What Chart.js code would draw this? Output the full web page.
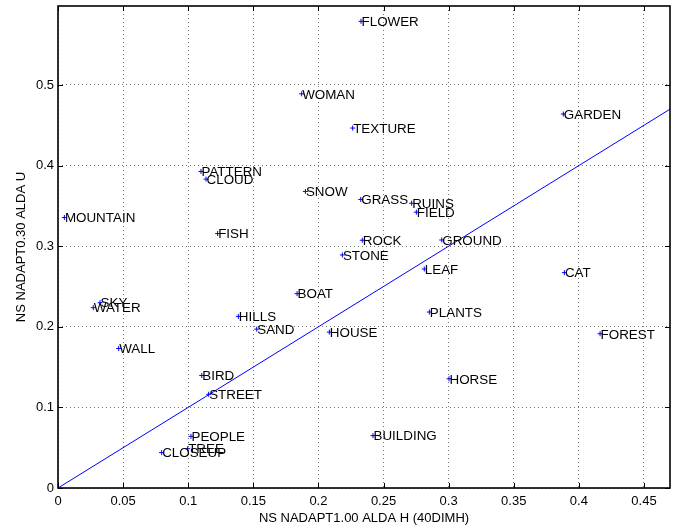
<!DOCTYPE html>
<html>
<head>
<meta charset="utf-8">
<script src="https://cdn.jsdelivr.net/npm/chart.js@4.4.1/dist/chart.umd.min.js"></script>
<style>
  html, body { margin: 0; padding: 0; background: #fff; }
  canvas { display: block; }
</style>
</head>
<body>
<canvas id="chart" width="685" height="528"></canvas>
<script>
// Scene categories and their scores on the two feature sets
const categories = ['FLOWER', 'WOMAN', 'TEXTURE', 'GARDEN', 'PATTERN', 'CLOUD', 'SNOW', 'MOUNTAIN',
  'FISH', 'GRASS', 'RUINS', 'FIELD', 'ROCK', 'GROUND', 'STONE', 'LEAF', 'CAT', 'PLANTS', 'FOREST',
  'HORSE', 'BUILDING', 'HOUSE', 'BOAT', 'HILLS', 'SAND', 'SKY', 'WATER', 'WALL', 'BIRD', 'STREET',
  'PEOPLE', 'TREE', 'CLOSEUP'];
const xValues = [0.2327, 0.1871, 0.2263, 0.3881, 0.1098, 0.1137, 0.1900, 0.0049,
  0.1226, 0.2325, 0.2716, 0.2752, 0.2337, 0.2947, 0.2184, 0.2813, 0.3889, 0.2852, 0.4163,
  0.3003, 0.2419, 0.2084, 0.1836, 0.1385, 0.1526, 0.0323, 0.0271, 0.0466, 0.1104, 0.1157,
  0.1021, 0.0996, 0.0796];
const yValues = [0.5790, 0.4890, 0.4466, 0.4640, 0.3927, 0.3832, 0.3679, 0.3356,
  0.3157, 0.3580, 0.3533, 0.3422, 0.3074, 0.3077, 0.2891, 0.2717, 0.2672, 0.2183, 0.1914,
  0.1355, 0.0650, 0.1934, 0.2411, 0.2129, 0.1971, 0.2299, 0.2237, 0.1731, 0.1396, 0.1163,
  0.0641, 0.0488, 0.0439];

// Reference diagonal y = x
const diagonalX = [0, 0.47];

// Axis ranges and tick labels
const xRange = [0, 0.47];
const yRange = [0, 0.598];
const xTicks = [0, 0.05, 0.1, 0.15, 0.2, 0.25, 0.3, 0.35, 0.4, 0.45];
const xTickLabels = ['0', '0.05', '0.1', '0.15', '0.2', '0.25', '0.3', '0.35', '0.4', '0.45'];
const yTicks = [0, 0.1, 0.2, 0.3, 0.4, 0.5];
const yTickLabels = ['0', '0.1', '0.2', '0.3', '0.4', '0.5'];

const xTitle = 'NS NADAPT1.00 ALDA H (40DIMH)';
const yTitle = 'NS NADAPT0.30 ALDA U';

const FONT = '"Liberation Sans", Arial, Helvetica, sans-serif';
const BLUE = '#0000ff';

// Box, inward tick marks, axis titles and point names
const annotate = {
  id: 'annotate',
  afterDatasetsDraw(chart) {
    const ctx = chart.ctx;
    const a = chart.chartArea;
    const xs = chart.scales.x, ys = chart.scales.y;
    ctx.save();

    // point names
    ctx.fillStyle = '#000';
    ctx.font = '13.4px ' + FONT;
    ctx.textAlign = 'left';
    ctx.textBaseline = 'alphabetic';
    chart.getDatasetMeta(0).data.forEach((el, i) => {
      ctx.fillText(categories[i], el.x + 0.5, el.y + 4.8);
    });

    // frame
    ctx.strokeStyle = '#000';
    ctx.lineWidth = 1.6;
    ctx.strokeRect(a.left, a.top, a.right - a.left, a.bottom - a.top);

    // inward ticks on all four sides
    ctx.lineWidth = 1;
    ctx.beginPath();
    const tl = 5;
    xTicks.forEach(v => {
      const px = Math.round(xs.getPixelForValue(v)) + 0.5;
      ctx.moveTo(px, a.bottom); ctx.lineTo(px, a.bottom - tl);
      ctx.moveTo(px, a.top); ctx.lineTo(px, a.top + tl);
    });
    yTicks.forEach(v => {
      const py = Math.round(ys.getPixelForValue(v)) + 0.5;
      ctx.moveTo(a.left, py); ctx.lineTo(a.left + tl, py);
      ctx.moveTo(a.right, py); ctx.lineTo(a.right - tl, py);
    });
    ctx.stroke();

    // axis titles
    ctx.font = '13px ' + FONT;
    ctx.textAlign = 'center';
    ctx.fillText(xTitle, (a.left + a.right) / 2, 522);
    ctx.translate(24.5, (a.top + a.bottom) / 2);
    ctx.rotate(-Math.PI / 2);
    ctx.fillText(yTitle, 0, 0);
    ctx.restore();
  }
};

const gridStyle = {
  color: 'rgba(0,0,0,0.55)',
  lineWidth: 1,
  drawTicks: false
};
const dottedBorder = { display: false, dash: [1, 3] };

new Chart(document.getElementById('chart'), {
  type: 'scatter',
  data: {
    datasets: [
      {
        data: categories.map((c, i) => ({ x: xValues[i], y: yValues[i] })),
        pointStyle: 'cross',
        pointRadius: 2.5,
        pointBorderColor: BLUE,
        pointBorderWidth: 1,
        showLine: false
      },
      {
        type: 'line',
        data: diagonalX.map(v => ({ x: v, y: v })),
        borderColor: BLUE,
        borderWidth: 1,
        pointRadius: 0,
        fill: false
      }
    ]
  },
  options: {
    responsive: false,
    devicePixelRatio: 1,
    animation: false,
    events: [],
    layout: { padding: { left: 0, top: 6, right: 15, bottom: 0 } },
    plugins: { legend: { display: false }, tooltip: { enabled: false } },
    scales: {
      x: {
        type: 'linear',
        min: xRange[0],
        max: xRange[1],
        afterBuildTicks: s => { s.ticks = xTicks.map(v => ({ value: v })); },
        afterFit: s => { s.height = 40; s.paddingLeft = 0; s.paddingRight = 0; },
        grid: gridStyle,
        border: dottedBorder,
        ticks: {
          padding: 6,
          color: '#000',
          font: { family: FONT, size: 13 },
          maxRotation: 0,
          callback: (v) => xTickLabels[xTicks.indexOf(v)] ?? ''
        }
      },
      y: {
        type: 'linear',
        min: yRange[0],
        max: yRange[1],
        afterBuildTicks: s => { s.ticks = yTicks.map(v => ({ value: v })); },
        afterFit: s => { s.width = 58; s.paddingTop = 0; s.paddingBottom = 0; },
        grid: gridStyle,
        border: dottedBorder,
        ticks: {
          padding: 4,
          color: '#000',
          font: { family: FONT, size: 13 },
          callback: (v) => yTickLabels[yTicks.indexOf(v)] ?? ''
        }
      }
    }
  },
  plugins: [annotate]
});
</script>
</body>
</html>
